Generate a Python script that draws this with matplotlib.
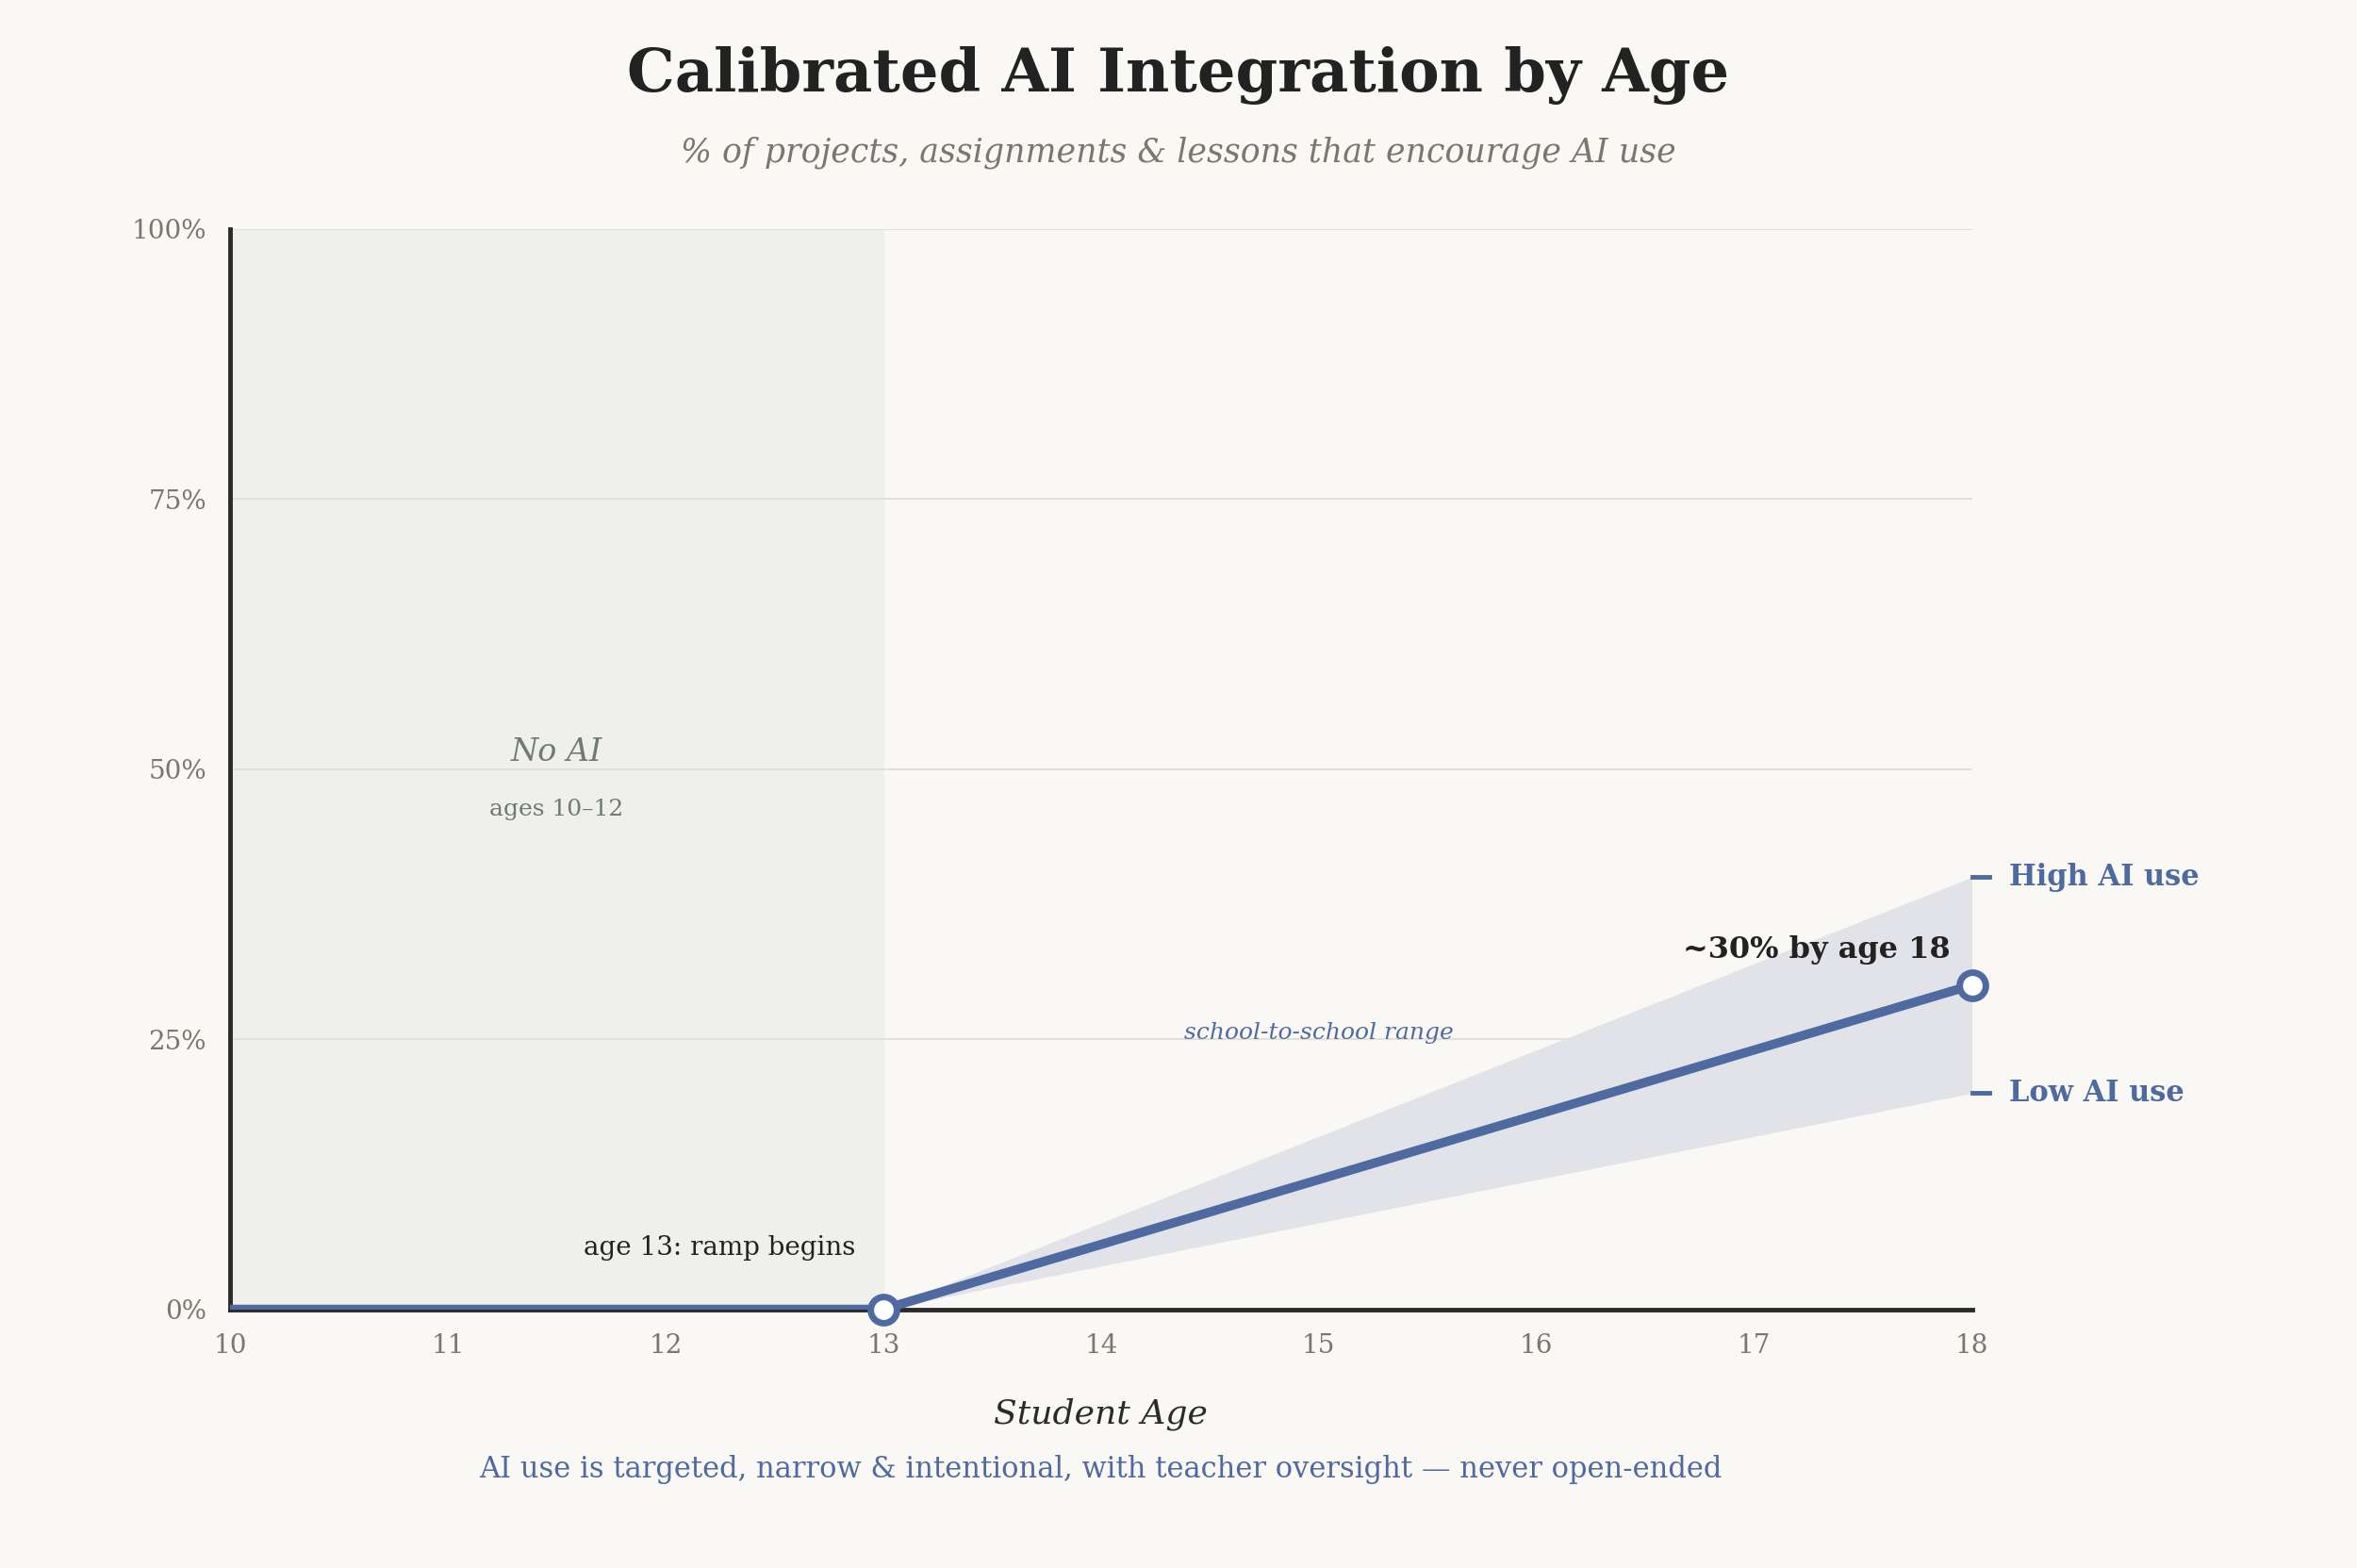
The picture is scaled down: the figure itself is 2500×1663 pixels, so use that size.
import matplotlib.pyplot as plt
import numpy as np

ages = [10, 11, 12, 13, 14, 15, 16, 17, 18]
ai_share = [0, 0, 0, 0, 6, 12, 18, 24, 30]
band_ages = [13, 18]
band_low = [0, 20]
band_high = [0, 40]
yticks = [0, 25, 50, 75, 100]
ytick_labels = ["0%", "25%", "50%", "75%", "100%"]

bg = "#faf8f4"
blue = "#4f6aa0"
grey = "#7a776f"
plt.rcParams['font.family'] = ['DejaVu Serif']

fig = plt.figure(figsize=(25, 16.63), dpi=100, facecolor=bg)
ax = fig.add_axes([0.0976, 0.165, 0.739, 0.689], facecolor=bg)

ax.axvspan(10, 13, color="#eff0eb", zorder=0)
ax.fill_between(band_ages, band_low, band_high, color="#e2e3e8", zorder=1, lw=0)
for y in yticks[1:]:
    ax.axhline(y, color="#e2e0db", lw=1.5, zorder=0.5)
ax.plot(ages, ai_share, color=blue, lw=7, zorder=3, solid_capstyle="butt")
ax.plot([13, 18], [0, 30], "o", ms=20, mfc="white", mec=blue, mew=5, zorder=4, clip_on=False)

ax.set_xlim(10, 18)
ax.set_ylim(0, 100)
ax.set_xticks(ages)
ax.set_yticks(yticks)
ax.set_yticklabels(ytick_labels)
ax.tick_params(length=0, labelsize=20, labelcolor=grey, pad=18)
for s in ["top", "right"]:
    ax.spines[s].set_visible(False)
for s in ["left", "bottom"]:
    ax.spines[s].set_color("#2b2b2b")
    ax.spines[s].set_linewidth(3.5)

ax.set_xlabel("Student Age", fontsize=26, style="italic", color="#2b2b2b", labelpad=30)

ax.text(11.5, 50.8, "No AI", fontsize=24, style="italic", color="#6f7a72", ha="center")
ax.text(11.5, 45.7, "ages 10\u201312", fontsize=18, color="#6f7a72", ha="center")
ax.text(12.25, 5, "age 13: ramp begins", fontsize=20, color="#222", ha="center")
ax.text(15.0, 25, "school-to-school range", fontsize=18, style="italic", color=blue, ha="center")
ax.text(17.9, 32.5, "~30% by age 18", fontsize=23, weight="bold", color="#222", ha="right")

for val, lab in [(40, "High AI use"), (20, "Low AI use")]:
    ax.plot([18.0, 18.08], [val, val], color=blue, lw=3.5, clip_on=False)
    ax.text(18.17, val, lab, fontsize=22, weight="bold", color=blue, va="center")

fig.text(0.5, 0.952, "Calibrated AI Integration by Age", fontsize=46, weight="bold",
         color="#222", ha="center", va="center")
fig.text(0.5, 0.903, "% of projects, assignments & lessons that encourage AI use", fontsize=25,
         style="italic", color=grey, ha="center", va="center")
fig.text(0.467, 0.063, "AI use is targeted, narrow & intentional, with teacher oversight \u2014 never open-ended",
         fontsize=22, color=blue, ha="center", va="center")

fig.savefig("out.png", facecolor=bg)
